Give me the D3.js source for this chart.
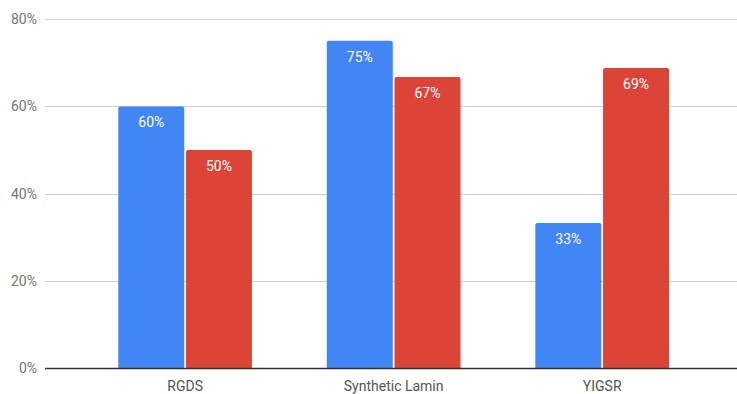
<!DOCTYPE html>
<html>
<head>
<meta charset="utf-8">
<script src="https://cdn.jsdelivr.net/npm/d3@7"></script>
<style>
  body { margin: 0; background: #fff; }
  svg { display: block; font-family: Roboto, sans-serif; }
</style>
</head>
<body>
<div id="chart"></div>
<script>
var width = 737;
var height = 394;

var categories = ["RGDS", "Synthetic Lamin", "YIGSR"];
var series = ["s1", "s2"];
var seriesA = [60, 75, 33.3];
var seriesB = [50, 66.7, 68.8];
var yTicks = [0, 20, 40, 60, 80];

var colors = { s1: "#4285f4", s2: "#db4437" };

// note: "top" is taken by window.top, so use other names
var plotLeft = 45, plotTop = 19, plotBottom = 368.5;

var svg = d3.select("#chart").append("svg")
  .attr("width", width)
  .attr("height", height);

var y = d3.scaleLinear().domain([0, 80]).range([plotBottom, plotTop]);

var x0 = d3.scaleBand()
  .domain(categories)
  .range([118.3, 669])
  .paddingInner(0.359)
  .paddingOuter(0);

var x1 = d3.scaleBand()
  .domain(series)
  .range([0, x0.bandwidth()])
  .paddingInner(0.026);

// gridlines
svg.append("g").selectAll("line")
  .data(yTicks.filter(function(d) { return d > 0; }))
  .enter().append("line")
  .attr("x1", plotLeft).attr("x2", width)
  .attr("y1", function(d) { return Math.round(y(d)) + 0.5; })
  .attr("y2", function(d) { return Math.round(y(d)) + 0.5; })
  .attr("stroke", "#cccccc")
  .attr("stroke-width", 1);

// y labels
svg.append("g").selectAll("text")
  .data(yTicks)
  .enter().append("text")
  .attr("x", 37)
  .attr("y", function(d) { return y(d); })
  .attr("dy", "0.35em")
  .attr("text-anchor", "end")
  .attr("fill", "#757575")
  .style("font-size", "14px")
  .text(function(d) { return d + "%"; });

var rows = categories.map(function(c, i) {
  return { cat: c, values: [{ key: "s1", v: seriesA[i] }, { key: "s2", v: seriesB[i] }] };
});

function topRounded(x, yTop, w, h, r) {
  return "M" + x + "," + (yTop + h) +
    "V" + (yTop + r) +
    "Q" + x + "," + yTop + " " + (x + r) + "," + yTop +
    "H" + (x + w - r) +
    "Q" + (x + w) + "," + yTop + " " + (x + w) + "," + (yTop + r) +
    "V" + (yTop + h) + "Z";
}

var groups = svg.append("g").selectAll("g")
  .data(rows)
  .enter().append("g")
  .attr("transform", function(d) { return "translate(" + x0(d.cat) + ",0)"; });

groups.selectAll("path")
  .data(function(d) { return d.values; })
  .enter().append("path")
  .attr("d", function(d) {
    return topRounded(x1(d.key), y(d.v), x1.bandwidth(), plotBottom - y(d.v), 2);
  })
  .attr("fill", function(d) { return colors[d.key]; });

groups.selectAll("text")
  .data(function(d) { return d.values; })
  .enter().append("text")
  .attr("x", function(d) { return x1(d.key) + x1.bandwidth() / 2; })
  .attr("y", function(d) { return y(d.v) + 21; })
  .attr("text-anchor", "middle")
  .attr("fill", "#ffffff")
  .style("font-size", "14px")
  .text(function(d) { return d3.format(".0f")(d.v) + "%"; });

// baseline
svg.append("line")
  .attr("x1", plotLeft).attr("x2", width)
  .attr("y1", plotBottom).attr("y2", plotBottom)
  .attr("stroke", "#333333")
  .attr("stroke-width", 1.3);

// category labels
svg.append("g").selectAll("text")
  .data(categories)
  .enter().append("text")
  .attr("x", function(d) { return x0(d) + x0.bandwidth() / 2; })
  .attr("y", 391)
  .attr("text-anchor", "middle")
  .attr("fill", "#555555")
  .style("font-size", "14px")
  .text(function(d) { return d; });
</script>
</body>
</html>
